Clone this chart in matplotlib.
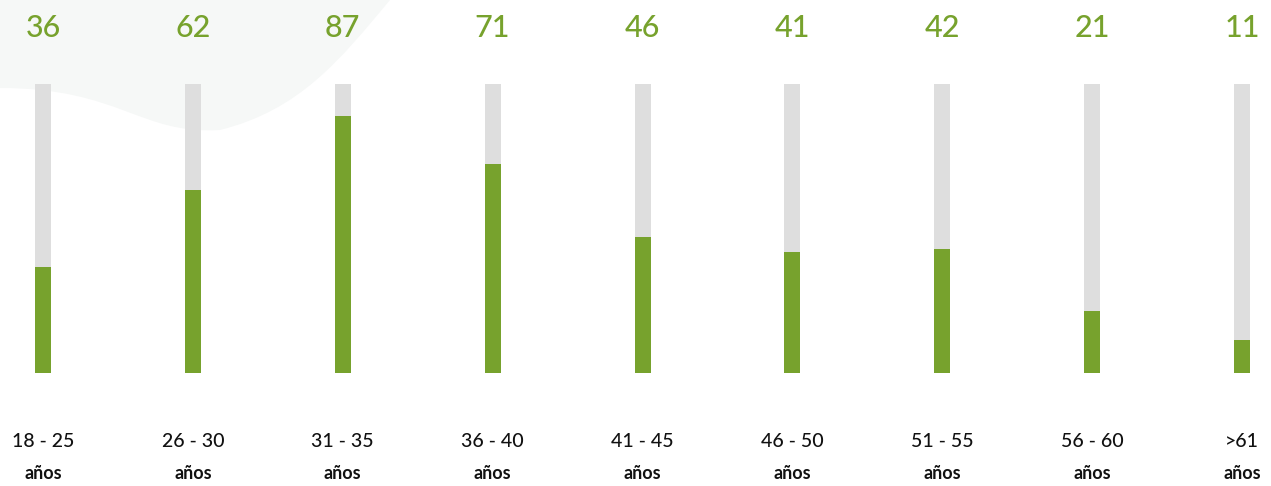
import matplotlib.pyplot as plt
from matplotlib.path import Path
from matplotlib.patches import PathPatch
from matplotlib.transforms import blended_transform_factory

rangos = ['18 - 25', '26 - 30', '31 - 35', '36 - 40', '41 - 45',
          '46 - 50', '51 - 55', '56 - 60', '>61']
personas = [36, 62, 87, 71, 46, 41, 42, 21, 11]
tope = 98

verde = '#77a22d'
gris = '#dedede'

plt.rcParams['font.family'] = ['Lato', 'DejaVu Sans']

fig = plt.figure(figsize=(12.71, 4.86), dpi=100)

# mancha decorativa arriba a la izquierda
W, H = 1271, 486
pts = [(0, 0), (390, 0),
       (340, 60), (300, 110), (220, 130),
       (140, 135), (120, 88), (0, 88),
       (0, 0)]
codes = [Path.MOVETO, Path.LINETO,
         Path.CURVE4, Path.CURVE4, Path.CURVE4,
         Path.CURVE4, Path.CURVE4, Path.CURVE4,
         Path.CLOSEPOLY]
verts = [(x / W, 1 - y / H) for x, y in pts]
fig.patches.append(PathPatch(Path(verts, codes), transform=fig.transFigure,
                             facecolor='#f6f8f7', edgecolor='none', zorder=-5))

paso = (1242 - 43) / 8
ax = fig.add_axes([0, (486 - 372.7) / 486, 1, 288.7 / 486])
ax.set_xlim(-43 / paso, (1271 - 43) / paso)
ax.set_ylim(0, tope)
ax.patch.set_alpha(0)
ax.axis('off')

pos = list(range(len(rangos)))
ancho = 16 / paso
ax.bar(pos, [tope] * len(pos), width=ancho, color=gris, zorder=1)
ax.bar(pos, personas, width=ancho, color=verde, zorder=2)

tr = blended_transform_factory(ax.transData, fig.transFigure)
for i, (r, v) in enumerate(zip(rangos, personas)):
    ax.text(i, 1 - 28 / H, str(v), transform=tr, ha='center', va='center',
            fontsize=22, color=verde, fontweight='medium')
    ax.text(i, 1 - 441 / H, r, transform=tr, ha='center', va='center',
            fontsize=14, color='#111111', fontweight='medium')
    ax.text(i, 1 - 473 / H, 'años', transform=tr, ha='center', va='center',
            fontsize=13, color='#111111', fontweight='bold')

fig.savefig('out.png', dpi=100)
